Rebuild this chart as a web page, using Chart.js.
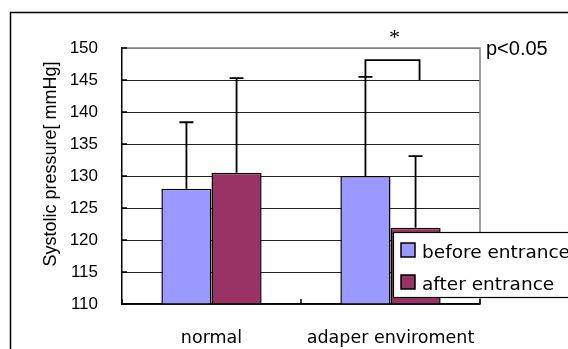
<!DOCTYPE html>
<html>
<head>
<meta charset="utf-8">
<script src="https://cdn.jsdelivr.net/npm/chart.js@4/dist/chart.umd.min.js"></script>
<style>
  html, body { margin: 0; padding: 0; background: #fff; }
  #wrap { width: 568px; height: 349px; }
</style>
</head>
<body>
<div id="wrap"><canvas id="c" width="568" height="349"></canvas></div>
<script>
// Mean systolic pressure per condition, with the upper half of the spread as error bars
const categories = ['normal', 'adaper enviroment'];
const seriesNames = ['before entrance', 'after entrance'];
const beforeValues = [128.0, 130.0];
const afterValues = [130.5, 121.9];
const beforeErrors = [10.4, 15.5];
const afterErrors = [14.8, 11.2];
const yMin = 110, yMax = 150, yStep = 5;
const yTitle = 'Systolic pressure[ mmHg]';

// Significance marker between the two bars of the second group
const sigGroup = 1;
const sigBracketTop = 148.1;
const sigRightEnd = 145.0;
const sigMarkValue = 152.2;
const sigMark = '*';
const sigNote = 'p<0.05';

const seriesColors = ['#9999FF', '#993366'];
const errorSets = [beforeErrors, afterErrors];

const overlay = {
  id: 'overlay',
  afterDatasetsDraw(chart) {
    const ctx = chart.ctx;
    const y = chart.scales.y;
    const x = chart.scales.x;
    const area = chart.chartArea;

    // error bars (upward only)
    ctx.save();
    ctx.strokeStyle = '#000';
    ctx.lineWidth = 1.8;
    chart.data.datasets.forEach((ds, di) => {
      const meta = chart.getDatasetMeta(di);
      meta.data.forEach((bar, i) => {
        const top = y.getPixelForValue(ds.data[i]);
        const eTop = y.getPixelForValue(ds.data[i] + errorSets[di][i]);
        ctx.beginPath();
        ctx.moveTo(bar.x, top);
        ctx.lineTo(bar.x, eTop);
        ctx.moveTo(bar.x - 7, eTop);
        ctx.lineTo(bar.x + 7, eTop);
        ctx.stroke();
      });
    });

    // significance bracket
    const b0 = chart.getDatasetMeta(0).data[sigGroup];
    const b1 = chart.getDatasetMeta(1).data[sigGroup];
    const leftEnd = y.getPixelForValue(beforeValues[sigGroup] + beforeErrors[sigGroup]);
    const topY = y.getPixelForValue(sigBracketTop);
    const rightY = y.getPixelForValue(sigRightEnd);
    ctx.beginPath();
    ctx.moveTo(b0.x, leftEnd);
    ctx.lineTo(b0.x, topY);
    ctx.lineTo(b1.x + 4, topY);
    ctx.lineTo(b1.x + 4, rightY);
    ctx.stroke();

    ctx.fillStyle = '#000';
    ctx.font = '22px "Liberation Serif"';
    ctx.textAlign = 'center';
    ctx.textBaseline = 'middle';
    ctx.fillText(sigMark, x.getPixelForValue(sigGroup) + 4, y.getPixelForValue(sigMarkValue) + 4);

    ctx.font = '20px "Liberation Sans"';
    ctx.textAlign = 'left';
    ctx.fillText(sigNote, area.right + 6, y.getPixelForValue(yMax) + 1);

    // plot border (top and right) in grey
    ctx.strokeStyle = '#808080';
    ctx.lineWidth = 1.5;
    ctx.beginPath();
    ctx.moveTo(area.left, area.top);
    ctx.lineTo(area.right, area.top);
    ctx.lineTo(area.right, area.bottom);
    ctx.stroke();

    // inward tick marks on the value axis
    ctx.strokeStyle = '#000';
    ctx.lineWidth = 1.5;
    for (let v = yMin; v <= yMax; v += yStep) {
      const py = y.getPixelForValue(v);
      ctx.beginPath();
      ctx.moveTo(area.left, py);
      ctx.lineTo(area.left + 5, py);
      ctx.stroke();
    }
    // tick marks between categories
    const step = (area.right - area.left) / categories.length;
    for (let k = 0; k <= categories.length; k++) {
      const px = area.left + step * k;
      ctx.beginPath();
      ctx.moveTo(px, area.bottom);
      ctx.lineTo(px, area.bottom - 5);
      ctx.stroke();
    }

    // value axis title, rotated
    ctx.save();
    ctx.translate(51, 164);
    ctx.rotate(-Math.PI / 2);
    ctx.fillStyle = '#000';
    ctx.font = '18px "Liberation Sans"';
    ctx.textAlign = 'center';
    ctx.textBaseline = 'middle';
    ctx.fillText(yTitle, 0, 0);
    ctx.restore();
    ctx.restore();
  },
  afterDraw(chart) {
    const ctx = chart.ctx;
    ctx.save();
    // outer frame
    ctx.strokeStyle = '#000';
    ctx.lineWidth = 1.5;
    ctx.beginPath();
    ctx.moveTo(10.5, 360);
    ctx.lineTo(10.5, 12.5);
    ctx.lineTo(600, 12.5);
    ctx.stroke();

    // legend box
    const lx = 393, ly = 232, lw = 220, lh = 65;
    ctx.fillStyle = '#fff';
    ctx.fillRect(lx, ly, lw, lh);
    ctx.lineWidth = 1.2;
    ctx.strokeRect(lx + 0.5, ly + 0.5, lw, lh);
    ctx.beginPath();
    ctx.rect(lx + 1, ly + 1, lw - 2, lh - 2);
    ctx.clip();
    ctx.font = '18.5px "DejaVu Sans"';
    ctx.textAlign = 'left';
    ctx.textBaseline = 'middle';
    seriesNames.forEach((name, i) => {
      const sy = 243 + i * 32;
      ctx.fillStyle = seriesColors[i];
      ctx.fillRect(401, sy, 14, 14);
      ctx.lineWidth = 1.5;
      ctx.strokeStyle = '#000';
      ctx.strokeRect(401, sy, 14, 14);
      ctx.fillStyle = '#000';
      ctx.fillText(name, 422, sy + 10);
    });
    ctx.restore();
  }
};

new Chart(document.getElementById('c'), {
  type: 'bar',
  data: {
    labels: categories,
    datasets: [
      { label: seriesNames[0], data: beforeValues, backgroundColor: seriesColors[0],
        borderColor: '#000', borderWidth: 1.5, base: yMin },
      { label: seriesNames[1], data: afterValues, backgroundColor: seriesColors[1],
        borderColor: '#000', borderWidth: 1.5, base: yMin }
    ]
  },
  options: {
    responsive: false,
    animation: false,
    devicePixelRatio: 1,
    layout: { padding: { top: 48, right: 88, bottom: 0, left: 0 } },
    categoryPercentage: 0.56,
    barPercentage: 1.0,
    plugins: { legend: { display: false }, tooltip: { enabled: false } },
    scales: {
      x: {
        grid: { display: false, drawTicks: false },
        border: { display: true, color: '#000', width: 1.5 },
        ticks: { color: '#000', font: { family: 'DejaVu Sans', size: 17.5 }, padding: 24 },
        afterFit(s) { s.height = 45; }
      },
      y: {
        min: yMin, max: yMax,
        grid: {
          drawTicks: false,
          color: ctx => (ctx.tick && ctx.tick.value === yMax) ? '#808080' : '#222',
          lineWidth: 1
        },
        border: { display: true, color: '#000', width: 1.5 },
        ticks: { stepSize: yStep, color: '#000', font: { family: 'Liberation Sans', size: 17 }, padding: 24 },
        afterFit(s) { s.width = 122; }
      }
    }
  },
  plugins: [overlay]
});
</script>
</body>
</html>
